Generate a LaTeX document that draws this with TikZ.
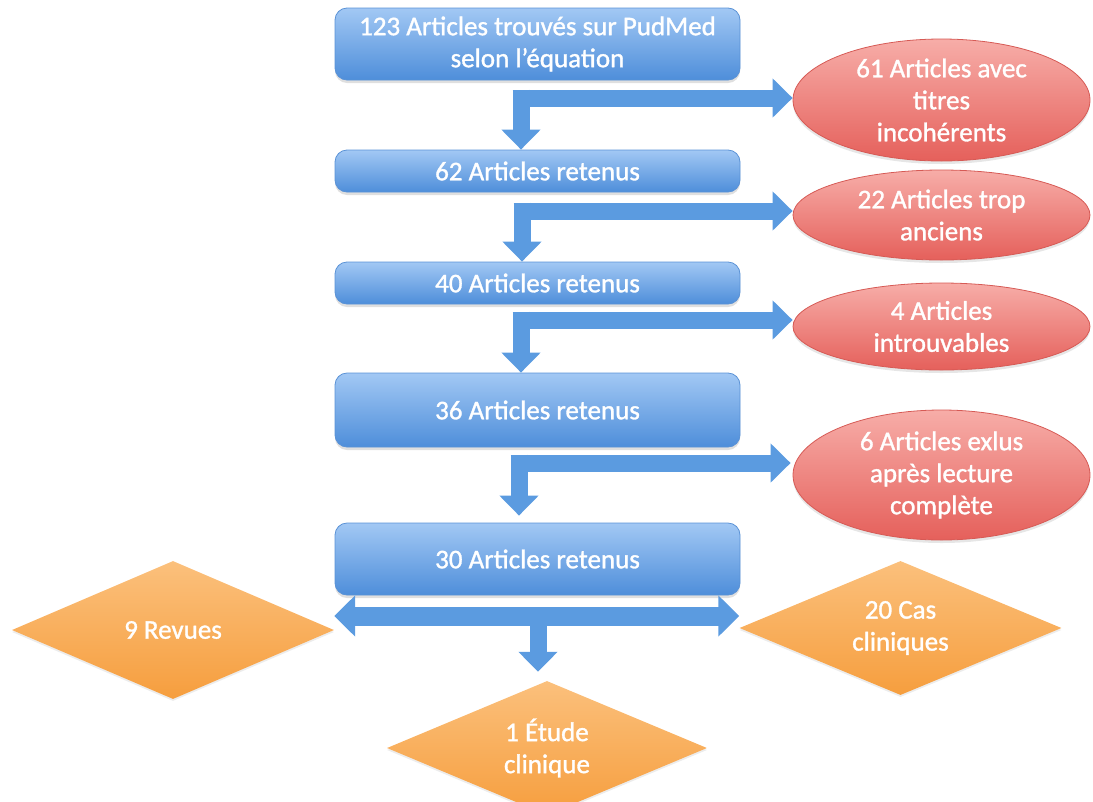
\documentclass[tikz,border=0pt]{standalone}
\usepackage{fontspec}
\setmainfont{Carlito}[FakeBold=1.2]
\usetikzlibrary{shapes.geometric,arrows.meta,shadows}
\definecolor{boxtop}{HTML}{A2C8F4}
\definecolor{boxbot}{HTML}{4E8EDA}
\definecolor{boxedge}{HTML}{5A92D6}
\definecolor{elltop}{HTML}{F7ADA8}
\definecolor{ellbot}{HTML}{E5605B}
\definecolor{elledge}{HTML}{D65A55}
\definecolor{diatop}{HTML}{FBC07C}
\definecolor{diabot}{HTML}{F69E3E}
\definecolor{arrcol}{HTML}{5B9BE0}
\begin{document}
\begin{tikzpicture}[x=1pt,y=-1pt,
  every node/.style={text=white, font=\fontsize{27}{32}\selectfont, align=center, inner sep=0pt},
  bluebox/.style={rectangle, rounded corners=12pt, draw=boxedge, line width=0.8pt, top color=boxtop, bottom color=boxbot, minimum width=405pt,
    drop shadow={opacity=0.25, shadow xshift=0pt, shadow yshift=-3pt}},
  redell/.style={ellipse, draw=elledge, line width=0.8pt, top color=elltop, bottom color=ellbot, minimum width=297pt,
    drop shadow={opacity=0.2, shadow xshift=0pt, shadow yshift=-3pt}},
  orgdia/.style={diamond, shape aspect=2.3, top color=diatop, bottom color=diabot, minimum width=322pt,
    drop shadow={opacity=0.15, shadow xshift=0pt, shadow yshift=-2pt}},
  flow/.style={draw=arrcol, line width=17pt, -{Triangle[width=38pt,length=20pt]}},
  twoway/.style={draw=arrcol, line width=19pt, {Triangle[width=40pt,length=21pt]}-{Triangle[width=40pt,length=21pt]}}
]
\useasboundingbox (0,0) rectangle (1093,801);

% main column
\node[bluebox, minimum height=72pt] (b1) at (537.5,44) {123 Articles trouvés sur PudMed\\selon l’équation};
\node[bluebox, minimum height=42pt] (b2) at (537.5,171) {62 Articles retenus};
\node[bluebox, minimum height=42pt] (b3) at (537.5,283) {40 Articles retenus};
\node[bluebox, minimum height=74pt] (b4) at (537.5,410) {36 Articles retenus};
\node[bluebox, minimum height=72pt] (b5) at (537.5,559) {30 Articles retenus};

% exclusions
\node[redell, minimum height=122pt] (e1) at (941.5,100) {61 Articles avec\\titres\\incohérents};
\node[redell, minimum height=90pt] (e2) at (941.5,215) {22 Articles trop\\anciens};
\node[redell, minimum height=87pt] (e3) at (941.5,326.5) {4 Articles\\introuvables};
\node[redell, minimum height=130pt] (e4) at (941.5,475) {6 Articles exlus\\après lecture\\complète};

% outcomes
\node[orgdia, minimum height=138pt] (rev) at (173,630) {9 Revues};
\node[orgdia, minimum height=134pt] (cas) at (900.5,628) {20 Cas\\cliniques};
\node[orgdia, minimum height=134pt, minimum width=320pt] (etu) at (547,748) {1 Étude\\clinique};

% split arrows
\coordinate (k1) at (521,98);
\coordinate (k2) at (522,211);
\coordinate (k3) at (521,320);
\coordinate (k4) at (519,463);
\coordinate (k5) at (538,616);

\draw[flow] ([xshift=-8.5pt]k1) -- (k1 -| e1.west);
\draw[flow] ([yshift=8.5pt]k1) -- (k1 |- b2.north);

\draw[flow] ([xshift=-8.5pt]k2) -- (k2 -| e2.west);
\draw[flow] ([yshift=8.5pt]k2) -- (k2 |- b3.north);

\draw[flow] ([xshift=-8.5pt]k3) -- (k3 -| e3.west);
\draw[flow] ([yshift=8.5pt]k3) -- (k3 |- b4.north);

\draw[flow, shorten >=2pt] ([xshift=-8.5pt]k4) -- (k4 -| e4.west);
\draw[flow, shorten >=7pt] ([yshift=8.5pt]k4) -- (k4 |- b5.north);

\draw[twoway] (k5 -| rev.east) -- (k5 -| cas.west);
\draw[flow, shorten >=9pt] (k5) -- (k5 |- etu.north);
\end{tikzpicture}
\end{document}
